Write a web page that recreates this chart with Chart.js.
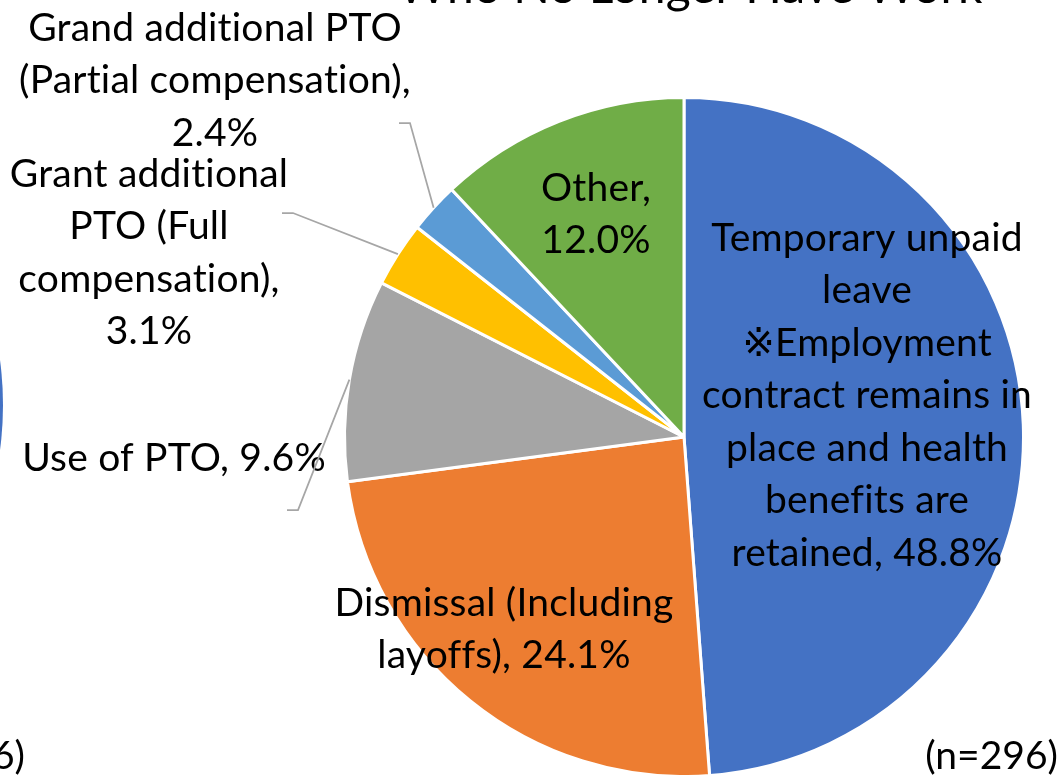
<!DOCTYPE html>
<html>
<head>
<meta charset="utf-8">
<script src="https://cdn.jsdelivr.net/npm/chart.js@4.4.1/dist/chart.umd.min.js"></script>
<style>
  html, body { margin: 0; padding: 0; background: #fff; }
  #wrap { position: relative; width: 1062px; height: 775px; overflow: hidden; }
</style>
</head>
<body>
<div id="wrap"><canvas id="chart" width="1062" height="775"></canvas></div>
<script>
// Данные
const categories = [
    'Temporary unpaid\nleave\n※Employment\ncontract remains in\nplace and health\nbenefits are\nretained',
    'Dismissal (Including\nlayoffs)',
    'Use of PTO',
    'Grant additional\nPTO (Full\ncompensation)',
    'Grand additional PTO\n(Partial compensation)',
    'Other'
];
const shares = [48.8, 24.1, 9.6, 3.1, 2.4, 12.0];
const colors = ['#4472C4', '#ED7D31', '#A5A5A5', '#FFC000', '#5B9BD5', '#70AD47'];
const sampleNote = '(n=296)';
const titleText = 'Who No Longer Have Work';

const FONT = '"Lato", "DejaVu Sans", sans-serif';

// Подписи секторов и выноски
const sliceLabels = {
    id: 'sliceLabels',
    afterDatasetsDraw(chart, args, opts) {
        const ctx = chart.ctx;
        const meta = chart.getDatasetMeta(0);
        ctx.save();
        ctx.font = opts.size + 'px ' + FONT;
        if ('letterSpacing' in ctx) ctx.letterSpacing = '0.2px'; // без лигатур "ti"
        ctx.fillStyle = '#000';
        ctx.textAlign = 'center';
        ctx.textBaseline = 'middle';
        meta.data.forEach((arc, i) => {
            const lay = opts.layout[i];
            const value = shares[i].toFixed(1) + '%';
            const lines = categories[i].split('\n');
            if (lay.valueBreak) {
                lines[lines.length - 1] += ',';
                lines.push(value);
            } else {
                lines[lines.length - 1] += ', ' + value;
            }
            lines.forEach((t, k) => ctx.fillText(t, lay.x, lay.y + k * opts.lineHeight));

            if (lay.leader) {
                const p = arc.getProps(['x', 'y', 'startAngle', 'endAngle', 'outerRadius'], true);
                const mid = (p.startAngle + p.endAngle) / 2;
                const ex = p.x + Math.cos(mid) * p.outerRadius;
                const ey = p.y + Math.sin(mid) * p.outerRadius;
                ctx.strokeStyle = '#A6A6A6';
                ctx.lineWidth = 1.75;
                ctx.beginPath();
                ctx.moveTo(lay.leader.x, lay.leader.y);
                ctx.lineTo(lay.leader.x + 11, lay.leader.y);
                ctx.lineTo(ex, ey);
                ctx.stroke();
            }
        });
        ctx.restore();
    }
};

// Обрезанный заголовок, соседний график и примечание
const frame = {
    id: 'frame',
    beforeDraw(chart) {
        const ctx = chart.ctx;
        ctx.save();
        ctx.fillStyle = '#fff';
        ctx.fillRect(0, 0, chart.width, chart.height);
        // край соседней диаграммы слева
        ctx.fillStyle = colors[0];
        ctx.beginPath();
        ctx.arc(-335, 405, 338, 0, Math.PI * 2);
        ctx.fill();
        ctx.restore();
    },
    afterDraw(chart) {
        const ctx = chart.ctx;
        ctx.save();
        ctx.fillStyle = '#000';
        ctx.textBaseline = 'alphabetic';
        ctx.font = '48px ' + FONT;
        ctx.textAlign = 'center';
        ctx.fillText(titleText, 690, 3);
        ctx.font = '39px ' + FONT;
        ctx.textAlign = 'right';
        ctx.fillText(sampleNote, 1058, 769);
        ctx.fillText('6)', 25, 769);
        ctx.restore();
    }
};

new Chart(document.getElementById('chart'), {
    type: 'pie',
    data: {
        labels: categories,
        datasets: [{
            data: shares,
            backgroundColor: colors,
            borderColor: '#fff',
            borderWidth: 3,
            radius: 339.5
        }]
    },
    options: {
        responsive: false,
        animation: false,
        layout: { padding: { left: 346, right: 40, top: 99, bottom: 0 } },
        plugins: {
            legend: { display: false },
            tooltip: { enabled: false },
            title: { display: false },
            sliceLabels: {
                size: 39,
                lineHeight: 52.5,
                layout: [
                    { x: 867, y: 238 },
                    { x: 504, y: 603 },
                    { x: 174, y: 458, leader: { x: 287, y: 510 } },
                    { x: 149, y: 174, valueBreak: true, leader: { x: 282, y: 213 } },
                    { x: 215, y: 28, valueBreak: true, leader: { x: 399, y: 123 } },
                    { x: 596, y: 188, valueBreak: true }
                ]
            }
        }
    },
    plugins: [frame, sliceLabels]
});
</script>
</body>
</html>
